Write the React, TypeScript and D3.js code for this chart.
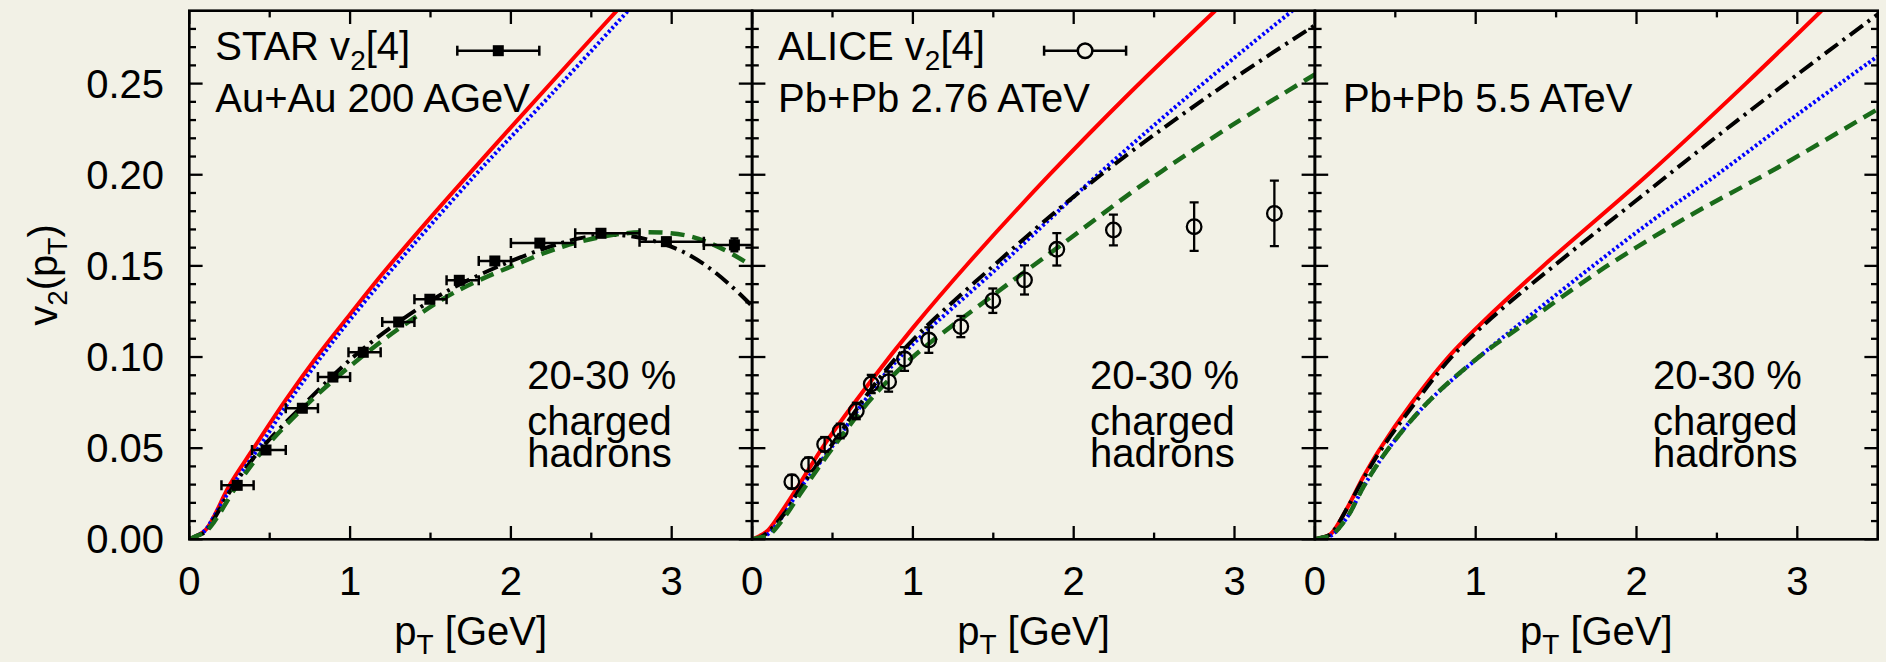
import React from 'react';
import * as d3 from 'd3';

const W = 1886;
const H = 662;
const BG = '#f2f1e6';
const FONT = '"Liberation Sans", Arial, Helvetica, sans-serif';

// ---------- axes ----------
const xDomain = [0, 3.5];
const yDomain = [0, 0.29];
const xMajorTicks = [0, 1, 2, 3];
const xMinorTicks = [0.5, 1.5, 2.5];
const yMajorTicks = [0, 0.05, 0.1, 0.15, 0.2, 0.25];
const yTickLabels = ['0.00', '0.05', '0.10', '0.15', '0.20', '0.25'];
const yMinorTicks = [0.01, 0.02, 0.03, 0.04, 0.06, 0.07, 0.08, 0.09, 0.11, 0.12, 0.13, 0.14, 0.16, 0.17, 0.18, 0.19, 0.21, 0.22, 0.23, 0.24, 0.26, 0.27, 0.28];

// ---------- STAR v2[4], Au+Au 200 AGeV ----------
const starPt = [0.298, 0.477, 0.703, 0.893, 1.082, 1.302, 1.496, 1.679, 1.9, 2.18, 2.56, 2.967, 3.39];
const starV2 = [0.0296, 0.049, 0.0719, 0.089, 0.1026, 0.1192, 0.1317, 0.1421, 0.1527, 0.1625, 0.1679, 0.1633, 0.1615];
const starErr = [0.001, 0.001, 0.001, 0.001, 0.001, 0.001, 0.001, 0.001, 0.0015, 0.0015, 0.002, 0.002, 0.0035];
const starPtLo = [0.2, 0.39, 0.6, 0.8, 0.99, 1.2, 1.4, 1.6, 1.8, 2.0, 2.4, 2.8, 3.2];
const starPtHi = [0.4, 0.6, 0.8, 1.0, 1.19, 1.4, 1.6, 1.8, 2.0, 2.4, 2.8, 3.2, 3.6];

// ---------- ALICE v2[4], Pb+Pb 2.76 ATeV ----------
const alicePt = [0.247, 0.351, 0.451, 0.548, 0.648, 0.741, 0.849, 0.948, 1.099, 1.298, 1.497, 1.694, 1.895, 2.247, 2.749, 3.248];
const aliceV2 = [0.0316, 0.0411, 0.0521, 0.0594, 0.0704, 0.0852, 0.0865, 0.0989, 0.1093, 0.1167, 0.1309, 0.1423, 0.1591, 0.1697, 0.1715, 0.1788];
const aliceErr = [0.0037, 0.0037, 0.004, 0.004, 0.0045, 0.005, 0.0055, 0.0065, 0.007, 0.0058, 0.0067, 0.008, 0.0089, 0.0084, 0.0133, 0.018];

// ---------- model curves [pT, v2] ----------
const p1Red = [[0, 0], [0.05, 0.002], [0.1, 0.005], [0.15, 0.012], [0.25, 0.0296], [0.4, 0.05], [0.6, 0.0765], [0.8, 0.101], [1.0, 0.1235], [1.2, 0.1455], [1.5, 0.1765], [2.0, 0.226], [2.4, 0.265], [2.7, 0.294]];
const p1Blue = [[0, 0], [0.05, 0.002], [0.1, 0.005], [0.15, 0.012], [0.27, 0.0296], [0.43, 0.05], [0.62, 0.0755], [0.82, 0.1], [1.0, 0.1205], [1.25, 0.147], [1.78, 0.2], [2.25, 0.244], [2.76, 0.293]];
const p1Black = [[0, 0], [0.05, 0.002], [0.1, 0.004], [0.15, 0.0106], [0.28, 0.03], [0.45, 0.05], [0.74, 0.0764], [1.02, 0.1], [1.29, 0.1185], [1.6, 0.136], [1.93, 0.15], [2.24, 0.1605], [2.45, 0.1655], [2.65, 0.167], [2.85, 0.1645], [3.04, 0.159], [3.2, 0.151], [3.37, 0.139], [3.5, 0.128]];
const p1Green = [[0, 0], [0.05, 0.002], [0.1, 0.004], [0.15, 0.009], [0.3, 0.03], [0.47, 0.05], [0.76, 0.0764], [1.07, 0.1], [1.35, 0.1185], [1.65, 0.1355], [2.01, 0.15], [2.32, 0.1605], [2.6, 0.1665], [2.85, 0.1685], [3.1, 0.1665], [3.3, 0.16], [3.5, 0.15]];

const p2Red = [[0, 0], [0.05, 0.002], [0.1, 0.005], [0.19, 0.016], [0.3, 0.031], [0.45, 0.052], [0.74, 0.087], [1.0, 0.116], [1.35, 0.152], [1.85, 0.2], [2.35, 0.245], [2.88, 0.29]];
const p2Blue = [[0, 0], [0.05, 0.001], [0.1, 0.003], [0.2, 0.014], [0.3, 0.028], [0.49, 0.05], [0.7, 0.076], [0.92, 0.1], [1.54, 0.15], [2.15, 0.2], [2.75, 0.246], [3.36, 0.29]];
const p2Black = [[0, 0], [0.05, 0.001], [0.1, 0.004], [0.2, 0.014], [0.3, 0.028], [0.48, 0.05], [0.9, 0.1], [1.5, 0.15], [2.17, 0.2], [2.95, 0.25], [3.5, 0.282]];
const p2Green = [[0, 0], [0.05, 0.001], [0.1, 0.002], [0.2, 0.012], [0.3, 0.025], [0.5, 0.05], [0.75, 0.078], [1.0, 0.1], [1.5, 0.134], [1.9, 0.16], [2.45, 0.196], [3.0, 0.228], [3.5, 0.255]];

const p3Red = [[0, 0], [0.05, 0.001], [0.1, 0.003], [0.2, 0.017], [0.3, 0.034], [0.4, 0.049], [0.6, 0.0745], [0.83, 0.1], [1.1, 0.124], [1.42, 0.15], [2.07, 0.2], [2.68, 0.25], [3.15, 0.29]];
const p3Black = [[0, 0], [0.05, 0.001], [0.1, 0.003], [0.2, 0.017], [0.3, 0.033], [0.41, 0.049], [0.62, 0.0745], [0.85, 0.1], [1.1, 0.1215], [1.5, 0.151], [2.0, 0.186], [2.5, 0.221], [3.0, 0.255], [3.5, 0.288]];
const p3Blue = [[0, 0], [0.05, 0.001], [0.1, 0.002], [0.2, 0.012], [0.31, 0.03], [0.46, 0.05], [0.7, 0.075], [1.02, 0.1], [1.3, 0.12], [1.7, 0.148], [2.1, 0.175], [2.5, 0.2], [3.0, 0.233], [3.5, 0.265]];
const p3Green = [[0, 0], [0.05, 0.001], [0.1, 0.002], [0.2, 0.012], [0.31, 0.03], [0.46, 0.05], [0.7, 0.075], [1.02, 0.1], [1.3, 0.118], [1.8, 0.149], [2.3, 0.176], [2.9, 0.205], [3.5, 0.236]];

const panelCurves = [
  [p1Red, p1Blue, p1Black, p1Green],
  [p2Red, p2Blue, p2Black, p2Green],
  [p3Red, p3Blue, p3Black, p3Green],
];

const curveStyles = [
  { stroke: '#ff0000', width: 4, dash: undefined },
  { stroke: '#0000ff', width: 4, dash: '2.6 2.6' },
  { stroke: '#000000', width: 4, dash: '16 6 3 6' },
  { stroke: '#1a6b1a', width: 4.5, dash: '14 8' },
];

// ---------- layout ----------
const plotTop = 10.7;
const plotBottom = 539.3;
const panelW = 562.8;
const panelLeft = [189.3, 189.3 + panelW, 189.3 + 2 * panelW];
const MAJ = 13.3;
const MIN = 6.7;

export default function App() {
  const y = d3.scaleLinear().domain(yDomain).range([plotBottom, plotTop]);

  const panels = panelLeft.map((L, pi) => {
    const x = d3.scaleLinear().domain(xDomain).range([L, L + panelW]);
    const line = d3
      .line<number[]>()
      .x((d) => x(d[0]))
      .y((d) => y(d[1]))
      .curve(d3.curveCatmullRom.alpha(0.5));
    const R = L + panelW;
    const clipId = `clip${pi}`;

    const ticks: any[] = [];
    yMajorTicks.forEach((v, i) => {
      ticks.push(<line key={`yl${i}`} x1={L} x2={L + MAJ} y1={y(v)} y2={y(v)} />);
      ticks.push(<line key={`yr${i}`} x1={R} x2={R - MAJ} y1={y(v)} y2={y(v)} />);
    });
    yMinorTicks.forEach((v, i) => {
      ticks.push(<line key={`yml${i}`} x1={L} x2={L + MIN} y1={y(v)} y2={y(v)} />);
      ticks.push(<line key={`ymr${i}`} x1={R} x2={R - MIN} y1={y(v)} y2={y(v)} />);
    });
    xMajorTicks.forEach((v, i) => {
      ticks.push(<line key={`xb${i}`} x1={x(v)} x2={x(v)} y1={plotBottom} y2={plotBottom - MAJ} />);
      ticks.push(<line key={`xt${i}`} x1={x(v)} x2={x(v)} y1={plotTop} y2={plotTop + MAJ} />);
    });
    xMinorTicks.forEach((v, i) => {
      ticks.push(<line key={`xmb${i}`} x1={x(v)} x2={x(v)} y1={plotBottom} y2={plotBottom - MIN} />);
      ticks.push(<line key={`xmt${i}`} x1={x(v)} x2={x(v)} y1={plotTop} y2={plotTop + MIN} />);
    });

    return (
      <g key={pi}>
        <defs>
          <clipPath id={clipId}>
            <rect x={L} y={plotTop} width={panelW} height={plotBottom - plotTop} />
          </clipPath>
        </defs>
        <g clipPath={`url(#${clipId})`}>
          {panelCurves[pi].map((c, ci) => (
            <path
              key={ci}
              d={line(c) || ''}
              fill="none"
              stroke={curveStyles[ci].stroke}
              strokeWidth={curveStyles[ci].width}
              strokeDasharray={curveStyles[ci].dash}
            />
          ))}
          {pi === 0 &&
            starPt.map((p, i) => (
              <g key={`s${i}`} stroke="#000" strokeWidth={2.5}>
                <line x1={x(starPtLo[i])} x2={x(starPtHi[i])} y1={y(starV2[i])} y2={y(starV2[i])} />
                <line x1={x(starPtLo[i])} x2={x(starPtLo[i])} y1={y(starV2[i]) - 5} y2={y(starV2[i]) + 5} />
                <line x1={x(starPtHi[i])} x2={x(starPtHi[i])} y1={y(starV2[i]) - 5} y2={y(starV2[i]) + 5} />
                <line x1={x(p)} x2={x(p)} y1={y(starV2[i] - starErr[i])} y2={y(starV2[i] + starErr[i])} />
                <line x1={x(p) - 4} x2={x(p) + 4} y1={y(starV2[i] - starErr[i])} y2={y(starV2[i] - starErr[i])} />
                <line x1={x(p) - 4} x2={x(p) + 4} y1={y(starV2[i] + starErr[i])} y2={y(starV2[i] + starErr[i])} />
                <rect x={x(p) - 5.5} y={y(starV2[i]) - 5.5} width={11} height={11} fill="#000" stroke="none" />
              </g>
            ))}
          {pi === 1 &&
            alicePt.map((p, i) => (
              <g key={`a${i}`} stroke="#000" strokeWidth={2.3} fill="none">
                <line x1={x(p)} x2={x(p)} y1={y(aliceV2[i] - aliceErr[i])} y2={y(aliceV2[i] + aliceErr[i])} />
                <line x1={x(p) - 4.5} x2={x(p) + 4.5} y1={y(aliceV2[i] - aliceErr[i])} y2={y(aliceV2[i] - aliceErr[i])} />
                <line x1={x(p) - 4.5} x2={x(p) + 4.5} y1={y(aliceV2[i] + aliceErr[i])} y2={y(aliceV2[i] + aliceErr[i])} />
                <circle cx={x(p)} cy={y(aliceV2[i])} r={7.3} />
              </g>
            ))}
        </g>
        <rect x={L} y={plotTop} width={panelW} height={plotBottom - plotTop} fill="none" stroke="#000" strokeWidth={2.6} />
        <g stroke="#000" strokeWidth={2.3}>{ticks}</g>
        <g fontFamily={FONT} fontSize={40} fill="#000" textAnchor="middle">
          {xMajorTicks.map((v, i) => (
            <text key={i} x={x(v)} y={595}>
              {v}
            </text>
          ))}
          <text x={L + panelW / 2} y={645}>
            p<tspan fontSize={28} dy={9}>T</tspan>
            <tspan dy={-9}> [GeV]</tspan>
          </text>
        </g>
        <g fontFamily={FONT} fontSize={40} fill="#000">
          <text x={L + 338} y={389}>20-30 %</text>
          <text x={L + 338} y={435}>charged</text>
          <text x={L + 338} y={467}>hadrons</text>
        </g>
      </g>
    );
  });

  const L1 = panelLeft[0];
  const L2 = panelLeft[1];
  const L3 = panelLeft[2];
  const legY = 50.7;

  return (
    <div style={{ position: 'absolute', left: 0, top: 0, width: W, height: H, background: BG }}>
      <svg width={W} height={H} style={{ display: 'block' }}>
        <rect x={0} y={0} width={W} height={H} fill={BG} />
        {panels}
        {/* y tick labels */}
        <g fontFamily={FONT} fontSize={40} fill="#000" textAnchor="end">
          {yMajorTicks.map((v, i) => (
            <text key={i} x={164} y={y(v) + 14}>
              {yTickLabels[i]}
            </text>
          ))}
        </g>
        {/* y axis label */}
        <text transform="translate(57,275) rotate(-90)" fontFamily={FONT} fontSize={40} textAnchor="middle" fill="#000">
          v<tspan fontSize={28} dy={10}>2</tspan>
          <tspan dy={-10}>(p</tspan>
          <tspan fontSize={28} dy={10}>T</tspan>
          <tspan dy={-10}>)</tspan>
        </text>
        {/* panel labels */}
        <g fontFamily={FONT} fontSize={40} fill="#000">
          <text x={L1 + 26} y={60}>
            STAR v<tspan fontSize={28} dy={10}>2</tspan>
            <tspan dy={-10}>[4]</tspan>
          </text>
          <text x={L1 + 26} y={112}>Au+Au 200 AGeV</text>
          <text x={L2 + 26} y={60}>
            ALICE v<tspan fontSize={28} dy={10}>2</tspan>
            <tspan dy={-10}>[4]</tspan>
          </text>
          <text x={L2 + 26} y={112}>Pb+Pb 2.76 ATeV</text>
          <text x={L3 + 28} y={112}>Pb+Pb 5.5 ATeV</text>
        </g>
        {/* legend samples */}
        <g stroke="#000" strokeWidth={2.5}>
          <line x1={L1 + 268} x2={L1 + 350} y1={legY} y2={legY} />
          <line x1={L1 + 268} x2={L1 + 268} y1={legY - 5} y2={legY + 5} />
          <line x1={L1 + 350} x2={L1 + 350} y1={legY - 5} y2={legY + 5} />
          <rect x={L1 + 309 - 5.5} y={legY - 5.5} width={11} height={11} fill="#000" stroke="none" />
          <line x1={L2 + 292} x2={L2 + 374} y1={legY} y2={legY} />
          <line x1={L2 + 292} x2={L2 + 292} y1={legY - 5} y2={legY + 5} />
          <line x1={L2 + 374} x2={L2 + 374} y1={legY - 5} y2={legY + 5} />
          <circle cx={L2 + 333} cy={legY} r={7.3} fill={BG} />
        </g>
      </svg>
    </div>
  );
}
